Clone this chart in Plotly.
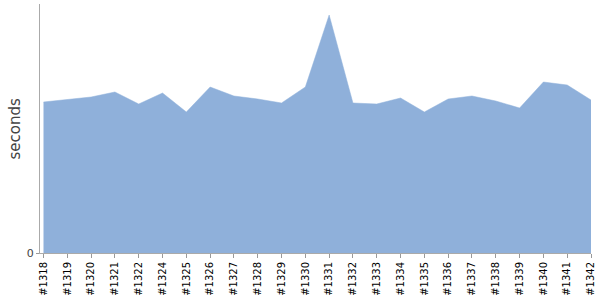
import plotly.graph_objects as go

builds = ["#1318", "#1319", "#1320", "#1321", "#1322", "#1324", "#1325", "#1326",
          "#1327", "#1328", "#1329", "#1330", "#1331", "#1332", "#1333", "#1334",
          "#1335", "#1336", "#1337", "#1338", "#1339", "#1340", "#1341", "#1342"]
seconds = [151, 153.5, 156, 161, 149, 160, 141, 166,
           157, 154, 150, 166, 238, 150, 149, 155,
           141, 154, 157, 152, 145, 171, 168, 153]

idx = list(range(len(builds)))

fig = go.Figure()
fig.add_trace(go.Scatter(
    x=idx, y=seconds, mode="lines", fill="tozeroy",
    line=dict(color="#8FB0DA", width=0.5),
    fillcolor="#8FB0DA", hoverinfo="skip", showlegend=False,
))

fig.update_layout(
    width=600, height=300,
    margin=dict(l=40, r=9, t=4, b=47),
    paper_bgcolor="white", plot_bgcolor="white",
    font=dict(family="DejaVu Sans", color="#444"),
)
fig.update_xaxes(
    range=[-0.147, len(builds) - 1],
    tickmode="array", tickvals=idx, ticktext=builds,
    tickangle=-90, tickfont=dict(size=10, color="#000"),
    ticks="outside", ticklen=4, tickcolor="#999",
    showline=True, linecolor="#aaa", linewidth=1,
    showgrid=False, zeroline=False,
)
fig.update_yaxes(
    range=[0, 249],
    tickmode="array", tickvals=[0], ticktext=["0"],
    tickfont=dict(size=11, color="#444"),
    ticks="outside", ticklen=3, tickcolor="#999",
    showline=True, linecolor="#aaa", linewidth=1,
    showgrid=False, zeroline=False,
)
fig.add_annotation(
    text="seconds", textangle=-90, showarrow=False,
    xref="paper", yref="paper", x=(14 - 40) / 551, y=0.5,
    xanchor="center", yanchor="middle",
    font=dict(size=15, color="#444"),
)

fig.write_html("out.html")
